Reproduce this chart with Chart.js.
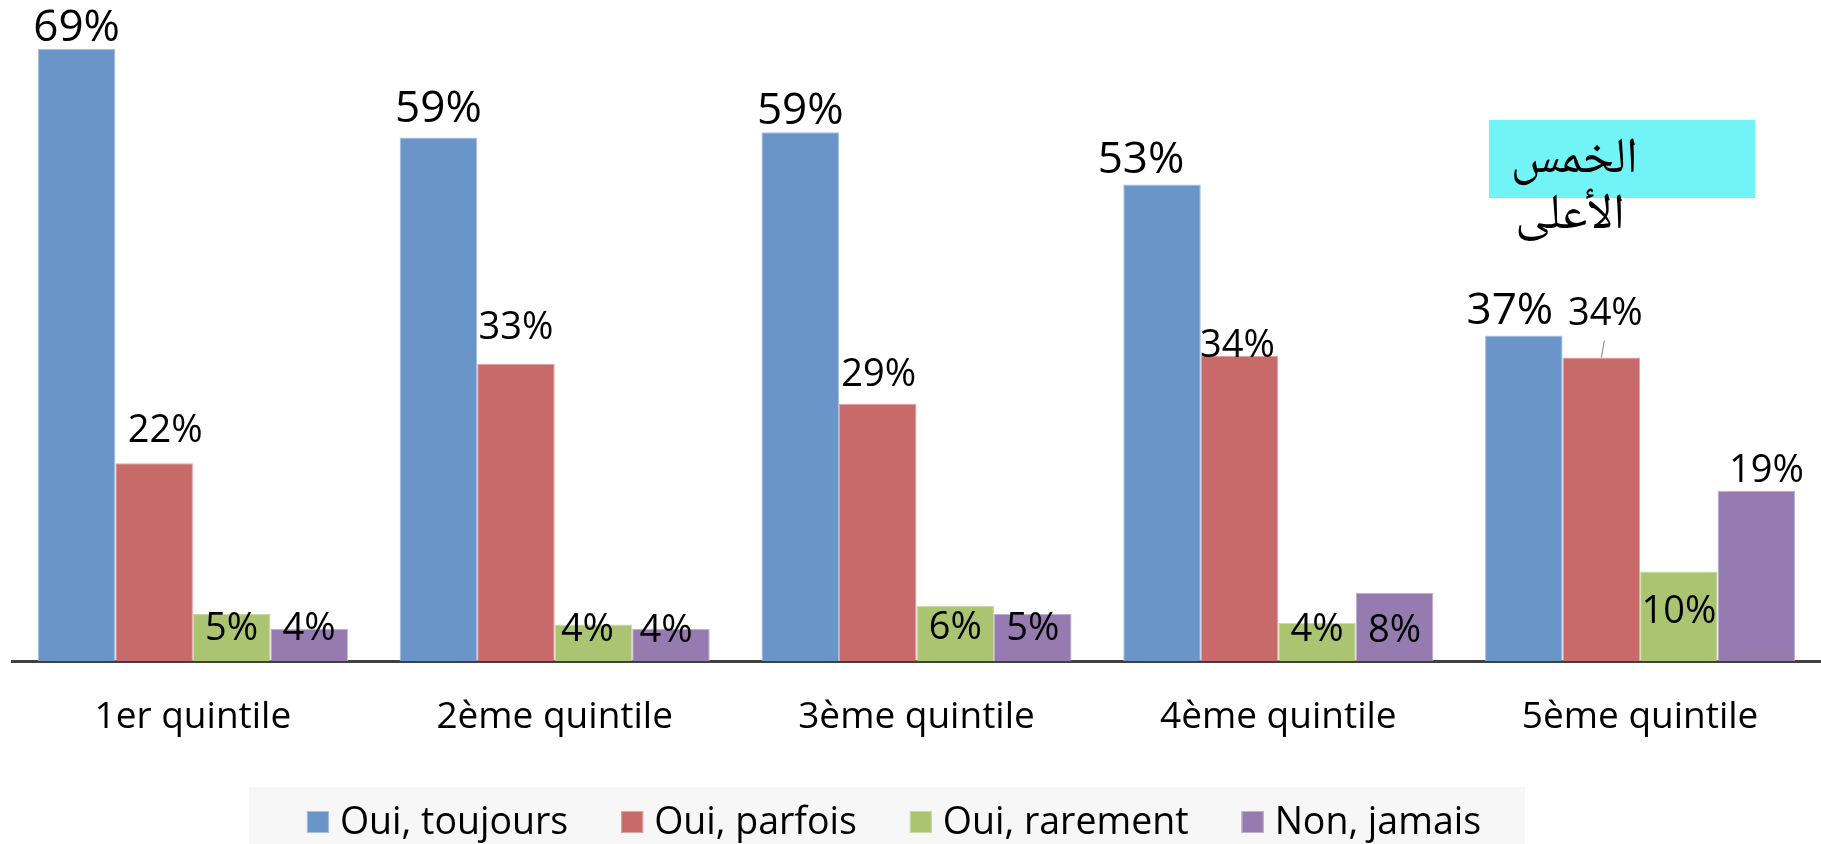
<!DOCTYPE html>
<html><head><meta charset="utf-8">
<script src="https://cdn.jsdelivr.net/npm/chart.js@4.4.1/dist/chart.umd.min.js"></script>
<style>html,body{margin:0;padding:0;background:#fff;overflow:hidden}</style>
</head><body>
<canvas id="c" width="1821" height="844"></canvas>
<script>
const categories = ['1er quintile', '2ème quintile', '3ème quintile', '4ème quintile', '5ème quintile'];
const seriesNames = ['Oui, toujours', 'Oui, parfois', 'Oui, rarement', 'Non, jamais'];
const toujours = [69, 59, 59.6, 53.7, 36.7];
const parfois = [22.3, 33.5, 29, 34.4, 34.2];
const rarement = [5.3, 4.1, 6.2, 4.3, 10.1];
const jamais = [3.6, 3.6, 5.3, 7.7, 19.2];
const toujoursLabels = ['69%', '59%', '59%', '53%', '37%'];
const parfoisLabels = ['22%', '33%', '29%', '34%', '34%'];
const rarementLabels = ['5%', '4%', '6%', '4%', '10%'];
const jamaisLabels = ['4%', '4%', '5%', '8%', '19%'];
const noteLines = ['الخمس', 'الأعلى'];

// label placement (offset of the text's cap centre from the bar top centre), kept apart from the data
const labelOffsets = [
  [[0, -23.5], [0, -31], [0, -24], [-21, -27], [-14, -27]],
  [[11, -35], [0, -38], [1, -31], [-2, -12], [4, -46]],
  [[0, 12], [-6, 3], [0, 19], [0, 5], [0, 38]],
  [[0, -3], [-5, -1], [0, 12], [0, 36], [10, -22]]
];
const labelSizes = [44, 38, 38, 38];
const allLabels = [toujoursLabels, parfoisLabels, rarementLabels, jamaisLabels];
const fills = ['#6A95C8', '#C86A69', '#AAC471', '#957BB0'];
const edges = ['#A3BEDF', '#DFA3A3', '#CADBA6', '#BDAED2'];
const FONT = '"Open Sans", "DejaVu Sans", sans-serif';

const labelsPlugin = {
  id: 'valueLabels',
  afterDatasetsDraw(chart) {
    const ctx = chart.ctx;
    ctx.save();
    ctx.fillStyle = '#000';
    ctx.textAlign = 'center';
    ctx.textBaseline = 'alphabetic';
    chart.data.datasets.forEach((ds, di) => {
      const meta = chart.getDatasetMeta(di);
      const size = labelSizes[di];
      ctx.font = size + 'px ' + FONT;
      meta.data.forEach((bar, i) => {
        const o = labelOffsets[di][i];
        ctx.fillText(allLabels[di][i], bar.x + o[0], bar.y + o[1] + size * 0.357);
      });
    });
    // leader line for the 5th quintile "Oui, parfois" label
    const b = chart.getDatasetMeta(1).data[4];
    ctx.strokeStyle = '#7f7f7f';
    ctx.lineWidth = 1;
    ctx.beginPath();
    ctx.moveTo(b.x, b.y);
    ctx.lineTo(b.x + 3, b.y - 17);
    ctx.stroke();
    ctx.restore();
  }
};

const notePlugin = {
  id: 'note',
  afterDraw(chart) {
    const ctx = chart.ctx;
    ctx.save();
    ctx.fillStyle = '#72F4F7';
    ctx.fillRect(1489, 120, 266, 78);
    ctx.fillStyle = '#000';
    ctx.font = '50px "Noto Naskh Arabic", "Noto Sans Arabic", "DejaVu Sans", sans-serif';
    ctx.textAlign = 'right';
    ctx.textBaseline = 'alphabetic';
    ctx.fillText(noteLines[0], 1638, 172);
    ctx.fillText(noteLines[1], 1625, 228);
    ctx.restore();
  }
};

const legendPlugin = {
  id: 'customLegend',
  afterDraw(chart) {
    const ctx = chart.ctx;
    ctx.save();
    ctx.font = '37.5px ' + FONT;
    const sq = 22, gapIn = 11, gapOut = 53;
    const widths = chart.data.datasets.map(d => ctx.measureText(d.label).width);
    let total = 0;
    widths.forEach((w, i) => { total += sq + gapIn + w + (i < widths.length - 1 ? gapOut : 0); });
    let x = 894 - total / 2;
    ctx.fillStyle = '#F7F7F7';
    ctx.fillRect(x - 58, 787, total + 58 + 44, 57);
    ctx.textBaseline = 'alphabetic';
    ctx.textAlign = 'left';
    chart.data.datasets.forEach((d, i) => {
      ctx.fillStyle = d.backgroundColor;
      ctx.fillRect(x, 811, sq, sq);
      ctx.strokeStyle = d.borderColor;
      ctx.lineWidth = 1;
      ctx.strokeRect(x + 0.5, 811.5, sq - 1, sq - 1);
      ctx.fillStyle = '#000';
      ctx.fillText(d.label, x + sq + gapIn, 834);
      x += sq + gapIn + widths[i] + gapOut;
    });
    ctx.restore();
  }
};

const seriesData = [toujours, parfois, rarement, jamais];
new Chart(document.getElementById('c'), {
  type: 'bar',
  data: {
    labels: categories,
    datasets: seriesNames.map((n, i) => ({
      label: n,
      data: seriesData[i],
      backgroundColor: fills[i],
      borderColor: edges[i],
      borderWidth: 1,
      categoryPercentage: 0.857,
      barPercentage: 1
    }))
  },
  options: {
    responsive: false,
    animation: false,
    devicePixelRatio: 1,
    layout: { padding: { left: 12, right: 0, top: 0, bottom: 0 } },
    plugins: { legend: { display: false }, tooltip: { enabled: false } },
    scales: {
      x: {
        grid: { display: false, drawTicks: false },
        border: { display: true, color: '#404040', width: 3 },
        ticks: { color: '#000', font: { family: FONT, size: 37 }, padding: 34, maxRotation: 0 },
        afterFit(s) { s.height = 183; }
      },
      y: { display: false, min: 0, max: 74.5 }
    }
  },
  plugins: [labelsPlugin, notePlugin, legendPlugin]
});
</script>
</body></html>
